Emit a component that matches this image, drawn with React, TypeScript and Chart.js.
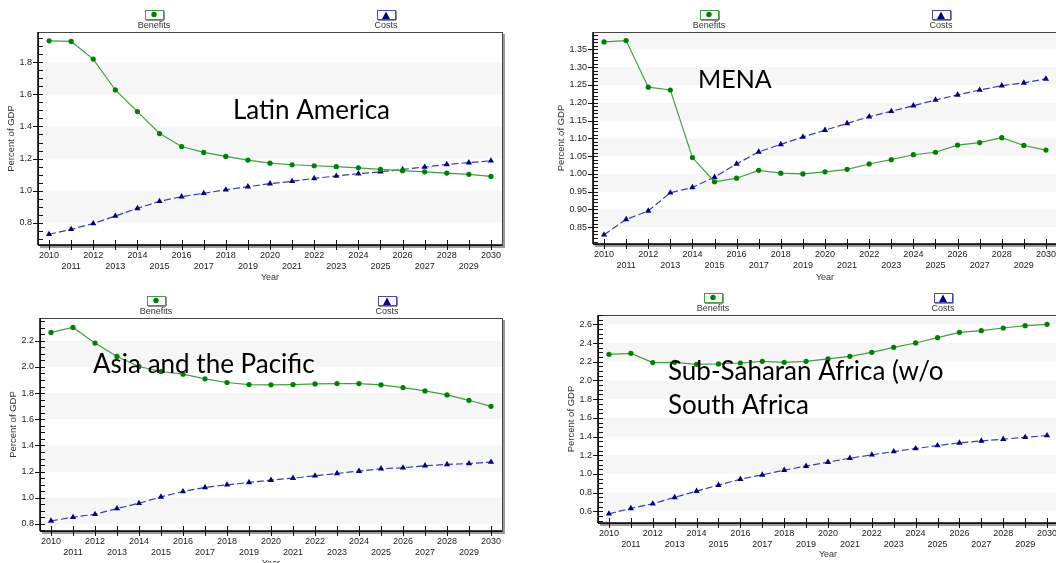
import React, { useEffect, useRef } from 'react';
import { Chart, registerables } from 'chart.js';

Chart.register(...registerables);

// ---------- data ----------
const years = ['2010','2011','2012','2013','2014','2015','2016','2017','2018','2019','2020','2021','2022','2023','2024','2025','2026','2027','2028','2029','2030'];
const seriesNames = ['Benefits', 'Costs'];

const latamBenefits = [1.935,1.931,1.821,1.628,1.493,1.356,1.275,1.238,1.213,1.190,1.171,1.161,1.155,1.149,1.142,1.132,1.124,1.117,1.109,1.101,1.088];
const latamCosts = [0.727,0.758,0.794,0.841,0.889,0.933,0.962,0.983,1.005,1.024,1.043,1.058,1.076,1.091,1.105,1.117,1.132,1.147,1.163,1.174,1.186];

const menaBenefits = [1.371,1.375,1.244,1.236,1.046,0.978,0.988,1.010,1.002,1.000,1.006,1.013,1.028,1.040,1.054,1.061,1.081,1.088,1.102,1.080,1.067];
const menaCosts = [0.829,0.872,0.896,0.947,0.962,0.991,1.028,1.062,1.083,1.104,1.123,1.142,1.161,1.176,1.192,1.208,1.222,1.236,1.248,1.256,1.267];

const asiaBenefits = [2.264,2.302,2.182,2.080,2.003,1.965,1.945,1.909,1.881,1.865,1.863,1.865,1.870,1.873,1.873,1.863,1.842,1.817,1.786,1.745,1.699];
const asiaCosts = [0.823,0.851,0.874,0.918,0.958,1.007,1.048,1.079,1.099,1.117,1.135,1.150,1.168,1.186,1.204,1.222,1.229,1.245,1.255,1.262,1.273];

const ssaBenefits = [2.280,2.290,2.191,2.194,2.173,2.177,2.187,2.205,2.194,2.205,2.230,2.258,2.301,2.354,2.401,2.458,2.515,2.532,2.561,2.586,2.600];
const ssaCosts = [0.575,0.632,0.682,0.750,0.817,0.881,0.945,0.991,1.041,1.084,1.127,1.169,1.205,1.240,1.272,1.304,1.333,1.354,1.372,1.393,1.411];

const latamTitle = ['Latin America'];
const menaTitle = ['MENA'];
const asiaTitle = ['Asia and the Pacific'];
const ssaTitle = ['Sub-Saharan Africa (w/o', 'South Africa'];

const yAxisTitle = 'Percent of GDP';
const xAxisTitle = 'Year';

// ---------- layout / style ----------
const SANS = "'Liberation Sans', Arial, sans-serif";
const TITLE_FONT = "Lato, 'Open Sans', sans-serif";

type Panel = {
  x: number; y: number; W: number; H: number;
  left: number; top: number; right: number; bottom: number;
  padL: number; yTitleX: number; yearY: number;
  min: number; max: number; labelStep: number; minor: number; dec: number; bandStart: number;
  benefits: number[]; costs: number[];
  title: string[]; titleX: number; titleY: number[]; titleSize: number;
};

const panels: Panel[] = [
  { x: 0, y: 0, W: 530, H: 285, left: 38, top: 32, right: 502, bottom: 245, padL: 0, yTitleX: 11, yearY: 278,
    min: 0.66, max: 1.99, labelStep: 0.2, minor: 0.05, dec: 1, bandStart: 0.8,
    benefits: latamBenefits, costs: latamCosts, title: latamTitle, titleX: 233, titleY: [119], titleSize: 26 },
  { x: 530, y: 0, W: 530, H: 285, left: 63, top: 32, right: 527, bottom: 244, padL: 20, yTitleX: 31, yearY: 278,
    min: 0.803, max: 1.399, labelStep: 0.05, minor: 0.01, dec: 2, bandStart: 0.85,
    benefits: menaBenefits, costs: menaCosts, title: menaTitle, titleX: 168, titleY: [88], titleSize: 25 },
  { x: 0, y: 285, W: 530, H: 285, left: 40, top: 33, right: 502, bottom: 246, padL: 0, yTitleX: 13, yearY: 279,
    min: 0.746, max: 2.374, labelStep: 0.2, minor: 0.05, dec: 1, bandStart: 0.8,
    benefits: asiaBenefits, costs: asiaCosts, title: asiaTitle, titleX: 93, titleY: [88], titleSize: 26 },
  { x: 530, y: 285, W: 530, H: 278, left: 68, top: 30, right: 528, bottom: 238, padL: 30, yTitleX: 41.7, yearY: 270,
    min: 0.476, max: 2.70, labelStep: 0.2, minor: 0.05, dec: 1, bandStart: 0.6,
    benefits: ssaBenefits, costs: ssaCosts, title: ssaTitle, titleX: 138, titleY: [95, 129], titleSize: 26 },
];

const GREEN_LINE = '#3fa03f';
const GREEN_PT = '#008000';
const BLUE_LINE = '#3c3ca8';
const BLUE_PT = '#000080';

function isMajor(v: number, step: number) {
  const r = v / step;
  return Math.abs(r - Math.round(r)) < 1e-6;
}

function line(ctx: CanvasRenderingContext2D, x1: number, y1: number, x2: number, y2: number) {
  ctx.beginPath();
  ctx.moveTo(x1, y1);
  ctx.lineTo(x2, y2);
  ctx.stroke();
}

function makeDecor(p: Panel) {
  return {
    id: 'decor',
    beforeDatasetsDraw(chart: any) {
      const { ctx, chartArea: a, scales } = chart;
      const ys = scales.y;
      ctx.save();
      ctx.beginPath();
      ctx.rect(a.left, a.top, a.right - a.left, a.bottom - a.top);
      ctx.clip();
      ctx.fillStyle = '#f6f6f6';
      const period = 2 * p.labelStep;
      let start = p.bandStart;
      while (start - period + p.labelStep > ys.min) start -= period;
      for (let v = start; v < ys.max; v += period) {
        const y0 = ys.getPixelForValue(v);
        const y1 = ys.getPixelForValue(v + p.labelStep);
        ctx.fillRect(a.left, y1, a.right - a.left, y0 - y1);
      }
      ctx.restore();
    },
    afterDraw(chart: any) {
      const { ctx, chartArea: a, scales } = chart;
      const xs = scales.x;
      const ys = scales.y;
      ctx.save();
      // frame shadow
      ctx.strokeStyle = '#9a9a9a';
      ctx.lineWidth = 2;
      line(ctx, a.right + 2, a.top + 2, a.right + 2, a.bottom + 3);
      line(ctx, a.left + 2, a.bottom + 2, a.right + 3, a.bottom + 2);
      // frame
      ctx.strokeStyle = '#444';
      ctx.lineWidth = 1;
      ctx.strokeRect(Math.round(a.left) + 0.5, Math.round(a.top) + 0.5, Math.round(a.right - a.left), Math.round(a.bottom - a.top));
      ctx.strokeStyle = '#000';
      ctx.lineWidth = 1.5;
      line(ctx, a.left, a.top, a.left, a.bottom);
      line(ctx, a.left, a.bottom, a.right, a.bottom);
      // x ticks
      ctx.lineWidth = 1;
      ctx.strokeStyle = '#111';
      for (let i = 0; i < years.length; i++) {
        const px = Math.round(xs.getPixelForTick(i)) + 0.5;
        line(ctx, px, a.bottom - 5, px, a.bottom + 5);
      }
      // y ticks
      const n0 = Math.ceil(ys.min / p.minor - 1e-9);
      const n1 = Math.floor(ys.max / p.minor + 1e-9);
      for (let n = n0; n <= n1; n++) {
        const v = n * p.minor;
        const py = Math.round(ys.getPixelForValue(v)) + 0.5;
        const maj = isMajor(v, p.labelStep);
        line(ctx, maj ? a.left - 5 : a.left, py, a.left + 5, py);
      }
      // legend
      const w = a.right - a.left;
      const iconY = a.top - 17.5;
      const labelY = a.top - 6.5;
      [0.25, 0.75].forEach((f, k) => {
        const cx = Math.round(a.left + w * f);
        const bx = cx - 9, by = Math.round(iconY - 4.5);
        ctx.fillStyle = '#fff';
        ctx.fillRect(bx, by, 18, 9);
        ctx.strokeStyle = '#222';
        ctx.lineWidth = 1;
        line(ctx, bx + 19, by + 1, bx + 19, by + 10);
        line(ctx, bx + 1, by + 10, bx + 19, by + 10);
        ctx.strokeStyle = k === 0 ? '#3fa03f' : '#4a4ab0';
        ctx.strokeRect(bx + 0.5, by + 0.5, 18, 9);
        if (k === 0) {
          ctx.fillStyle = GREEN_PT;
          ctx.beginPath();
          ctx.arc(cx, by + 4.5, 2.7, 0, Math.PI * 2);
          ctx.fill();
        } else {
          ctx.fillStyle = BLUE_PT;
          ctx.beginPath();
          ctx.moveTo(cx - 4, by + 9);
          ctx.lineTo(cx + 4, by + 9);
          ctx.lineTo(cx, by + 1.5);
          ctx.closePath();
          ctx.fill();
        }
        ctx.fillStyle = '#333';
        ctx.font = `9px ${SANS}`;
        ctx.textAlign = 'center';
        ctx.textBaseline = 'middle';
        ctx.fillText(seriesNames[k], cx, labelY);
      });
      // region title
      ctx.fillStyle = '#000';
      ctx.font = `${p.titleSize}px ${TITLE_FONT}`;
      ctx.textAlign = 'left';
      ctx.textBaseline = 'alphabetic';
      p.title.forEach((t, i) => ctx.fillText(t, p.titleX, p.titleY[i]));
      ctx.restore();
    },
  };
}

function PanelChart({ p }: { p: Panel }) {
  const ref = useRef<HTMLCanvasElement | null>(null);
  useEffect(() => {
    if (!ref.current) return;
    const xLabels = years.map((y, i) => (i % 2 === 0 ? [y] : ['', y]));
    const yTitleSize = 9.5;
    const xTitleSize = 9;
    const chart = new Chart(ref.current, {
      type: 'line',
      data: {
        labels: xLabels as any,
        datasets: [
          {
            label: seriesNames[0],
            data: p.benefits,
            borderColor: GREEN_LINE,
            borderWidth: 1.2,
            pointStyle: 'circle',
            pointRadius: 2.6,
            pointBackgroundColor: GREEN_PT,
            pointBorderColor: GREEN_PT,
            pointBorderWidth: 0,
            tension: 0,
            fill: false,
          },
          {
            label: seriesNames[1],
            data: p.costs,
            borderColor: BLUE_LINE,
            borderWidth: 1.2,
            borderDash: [7, 3],
            pointStyle: 'triangle',
            pointRadius: 3.6,
            pointBackgroundColor: BLUE_PT,
            pointBorderColor: BLUE_PT,
            pointBorderWidth: 0,
            tension: 0,
            fill: false,
          },
        ],
      },
      options: {
        responsive: false,
        animation: false,
        devicePixelRatio: 1,
        layout: { autoPadding: false, padding: { left: p.padL, top: p.top, right: p.W - p.right, bottom: 0 } },
        plugins: { legend: { display: false }, tooltip: { enabled: false } },
        scales: {
          x: {
            type: 'category',
            offset: true,
            grid: { display: true, drawOnChartArea: false, drawTicks: true, tickLength: 5, color: 'transparent', tickColor: 'transparent' },
            border: { display: false },
            ticks: { autoSkip: false, maxRotation: 0, minRotation: 0, padding: 0, color: '#1a1a1a', font: { family: SANS, size: 9 } },
            title: { display: true, text: xAxisTitle, color: '#333', font: { family: SANS, size: xTitleSize }, padding: { top: 0, bottom: p.H - p.yearY - (xTitleSize * 1.2) / 2 } },
            afterFit: (s: any) => { s.height = p.H - p.bottom; },
          } as any,
          y: {
            type: 'linear',
            min: p.min,
            max: p.max,
            grid: { display: true, drawOnChartArea: false, drawTicks: true, tickLength: 5, color: 'transparent', tickColor: 'transparent' },
            border: { display: false },
            ticks: {
              stepSize: p.minor,
              autoSkip: false,
              includeBounds: false,
              maxTicksLimit: 1000,
              padding: 1,
              color: '#1a1a1a',
              font: { family: SANS, size: 9 },
              callback: (v: any) => (isMajor(Number(v), p.labelStep) ? Number(v).toFixed(p.dec) : ''),
            },
            title: { display: true, text: yAxisTitle, color: '#333', font: { family: SANS, size: yTitleSize }, padding: { top: p.yTitleX - p.padL - (yTitleSize * 1.2) / 2, bottom: 0 } },
            afterFit: (s: any) => { s.width = p.left - p.padL; },
          } as any,
        },
      },
      plugins: [makeDecor(p) as any],
    });
    return () => chart.destroy();
  }, [p]);
  return (
    <div style={{ position: 'absolute', left: p.x, top: p.y, width: p.W, height: p.H }}>
      <canvas ref={ref} width={p.W} height={p.H} style={{ width: p.W, height: p.H, display: 'block' }} />
    </div>
  );
}

export default function App() {
  return (
    <div style={{ position: 'fixed', left: 0, top: 0, width: 1056, height: 563, overflow: 'hidden', background: '#fff' }}>
      {panels.map((p, i) => (
        <PanelChart key={i} p={p} />
      ))}
    </div>
  );
}
